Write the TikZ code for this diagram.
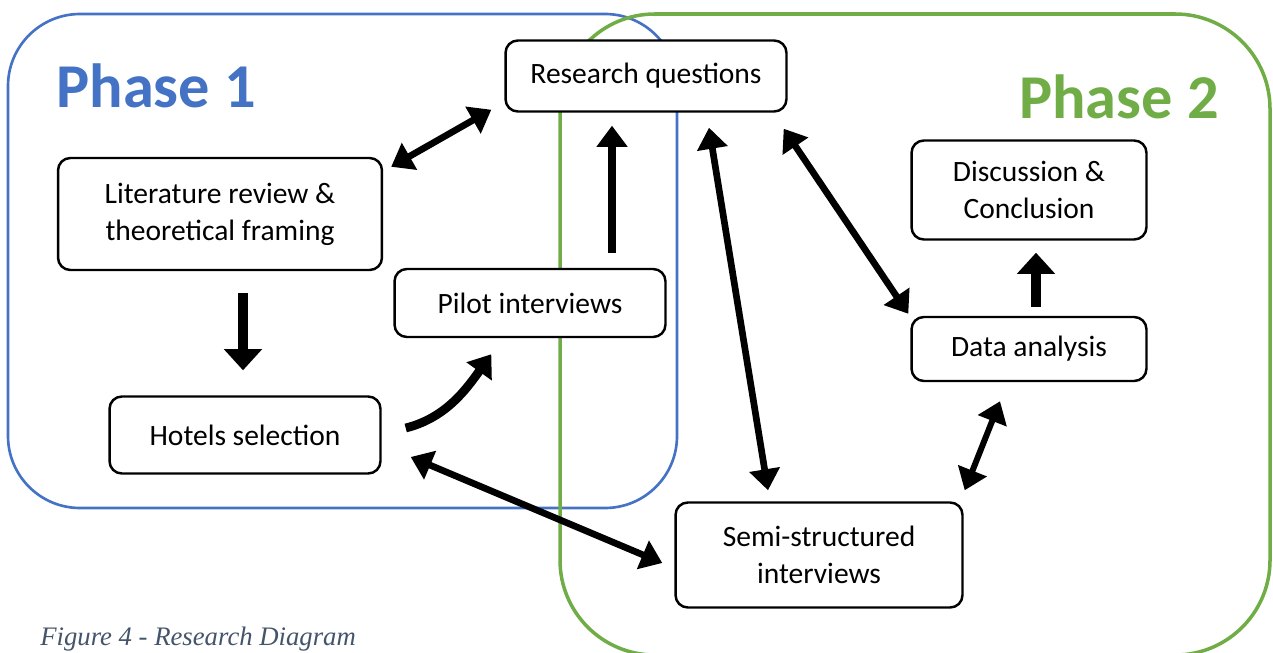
\documentclass[tikz,border=0pt]{standalone}
\usepackage{fontspec}
\setmainfont{Carlito}
\newfontfamily\capfont{Liberation Serif}
\usetikzlibrary{arrows.meta,calc}
\definecolor{phaseblue}{HTML}{4472C4}
\definecolor{phasegreen}{HTML}{70AD47}
\definecolor{captiongray}{HTML}{44546A}
\tikzset{
  box/.style={draw, line width=1.4pt, rounded corners=7pt, fill=white, align=center,
    inner sep=0pt, font=\fontsize{16.8}{21}\selectfont},
  phase/.style={inner sep=0pt, font=\fontsize{35.5}{40}\selectfont\bfseries},
  flow/.style={line width=4pt, -{Triangle[width=17pt,length=12pt]}},
  bigflow/.style={line width=5.5pt, -{Triangle[width=21pt,length=12pt]}},
  twoway/.style={line width=3.8pt, {Triangle[width=17pt,length=12pt]}-{Triangle[width=17pt,length=12pt]}},
}

\begin{document}
\begin{tikzpicture}[x=0.02cm, y=-0.02cm]
    \clip (0,0) rectangle (1273,652);
    \draw[phaseblue, line width=1.5pt, rounded corners=41pt] (8,14) rectangle (677,508);
    \draw[phasegreen, line width=2pt, rounded corners=54pt] (560,14) rectangle (1270,655);
    \node[phase, anchor=base west, phaseblue] (ph1) at (56,108) {Phase 1};
    \node[phase, anchor=base east, phasegreen] (ph2) at (1219,118) {Phase 2};

    \node[box, minimum width=5.62cm, minimum height=1.42cm] (rq) at (646,76) {Research questions};
    \node[box, minimum width=6.48cm, minimum height=2.24cm] (lit) at (220,214) {Literature review \&\\theoretical framing};
    \node[box, minimum width=5.42cm, minimum height=1.36cm] (pilot) at (530,303) {Pilot interviews};
    \node[box, minimum width=5.42cm, minimum height=1.54cm] (hot) at (245,435) {Hotels selection};
    \node[box, minimum width=5.74cm, minimum height=2.10cm] (semi) at (819,555) {Semi-structured\\interviews};
    \node[box, minimum width=4.70cm, minimum height=1.98cm] (disc) at (1029,190) {Discussion \&\\Conclusion};
    \node[box, minimum width=4.70cm, minimum height=1.28cm] (data) at (1029,349) {Data analysis};

    \draw[twoway] ($(lit.north east)+(8,10)$) to ($(rq.south west)+(-13,-3)$);
    \draw[bigflow] ($(lit.south)+(23,22)$) to ($(hot.north)+(-2,-25)$);
    \draw[flow, line width=5pt] ($(hot.east)+(24,-7)$) .. controls +(40,-10) and +(-25,35) .. ($(pilot.south west)+(98,16)$);
    \draw[flow, line width=4.5pt] ($(pilot.north)+(82,-15)$) to ($(rq.south)+(-34,13)$);
    \draw[twoway] ($(rq.south)+(63,15)$) to ($(semi.north)+(-51,-11)$);
    \draw[twoway] ($(rq.south east)+(-4,16)$) to ($(data.north west)+(-2,-2)$);
    \draw[twoway] ($(hot.east)+(29,22)$) to ($(semi.west)+(-12,8)$);
    \draw[twoway, line width=3.4pt] ($(semi.north east)+(1,-11)$) to ($(data.south)+(-29,19)$);
    \draw[bigflow] ($(data.north)+(7,-9)$) to ($(disc.south)+(7,12)$);

    \node[anchor=base west, inner sep=0pt, captiongray, font=\capfont\itshape\fontsize{15.2}{18}\selectfont] (cap) at (40,645) {Figure 4 - Research Diagram};
\end{tikzpicture}
\end{document}
